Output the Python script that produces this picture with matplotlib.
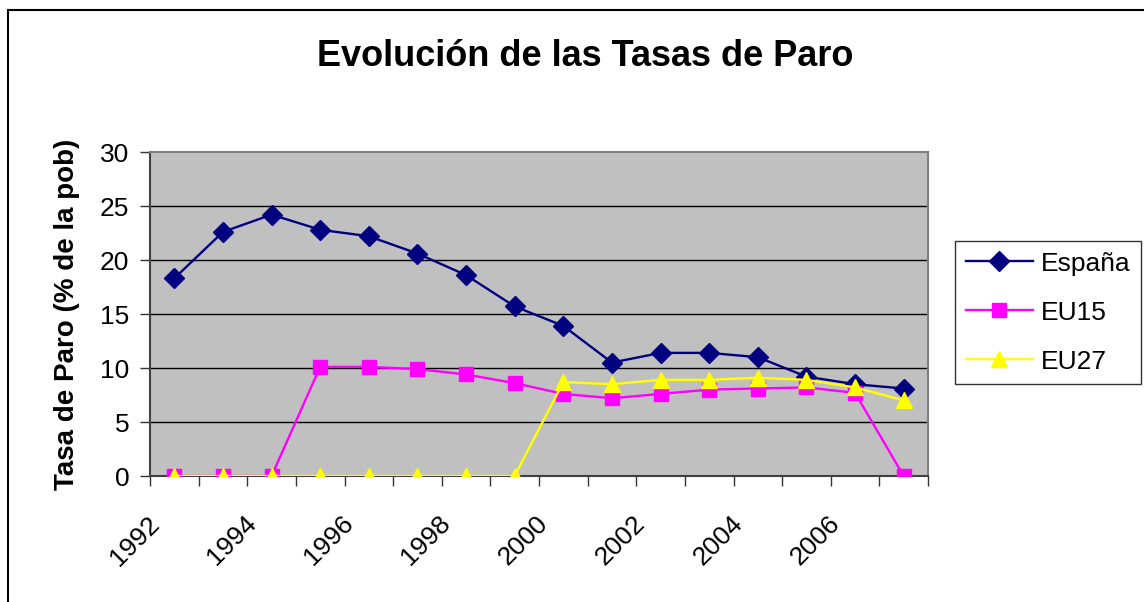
import matplotlib
matplotlib.use("Agg")
import matplotlib.pyplot as plt
import matplotlib.transforms as mtransforms
from matplotlib.patches import Rectangle

plt.rcParams['font.family'] = ['Liberation Sans', 'DejaVu Sans']

anios = list(range(1992, 2008))
espana = [18.3, 22.6, 24.2, 22.8, 22.2, 20.6, 18.6, 15.7, 13.9, 10.5, 11.4, 11.4, 11.0, 9.2, 8.5, 8.1]
eu15 = [0, 0, 0, 10.1, 10.1, 9.9, 9.4, 8.6, 7.6, 7.2, 7.6, 8.0, 8.1, 8.2, 7.7, 0]
eu27 = [0, 0, 0, 0, 0, 0, 0, 0, 8.7, 8.5, 8.9, 8.9, 9.1, 8.9, 8.2, 7.0]
etiquetas_x = [str(a) for a in anios[::2]]

fig = plt.figure(figsize=(11.44, 6.02), dpi=100)
ax = fig.add_axes([150 / 1144, 1 - 476 / 602, 778 / 1144, 324 / 602])
ax.set_facecolor('#C0C0C0')

# marco exterior del grafico (solo se ven los bordes izquierdo y superior)
fig.patches.append(Rectangle((8 / 1144, -0.1), 1.2, 1 - 10 / 602 + 0.1,
                             transform=fig.transFigure, fill=False,
                             edgecolor='black', linewidth=1.5))

x = list(range(len(anios)))
ax.plot(x, espana, color='#000080', marker='D', markersize=10, linewidth=1.7,
        label='España', zorder=3)
ax.plot(x, eu15, color='#FF00FF', marker='s', markersize=9.5, linewidth=1.7,
        label='EU15', zorder=4)
ax.plot(x, eu27, color='#FFFF00', marker='^', markersize=12, linewidth=1.7,
        label='EU27', zorder=5)

ax.set_xlim(-0.5, len(anios) - 0.5)
ax.set_ylim(0, 30)
ax.set_yticks(range(0, 31, 5))
for v in range(5, 30, 5):
    ax.axhline(v, color='black', linewidth=1, zorder=1)

# marcas entre categorias, etiquetas cada dos años
ax.set_xticks([i - 0.5 for i in range(len(anios) + 1)], minor=True)
ax.set_xticks([])
offset = mtransforms.ScaledTranslation(-19 / 100, -44 / 100, fig.dpi_scale_trans)
for i, lab in zip(x[::2], etiquetas_x):
    ax.text(i, 0, lab, transform=ax.get_xaxis_transform() + offset,
            rotation=45, ha='right', va='center', rotation_mode='anchor',
            fontsize=19)
ax.tick_params(axis='x', which='minor', length=7, width=1, color='#333333')
ax.tick_params(axis='y', length=7, width=1, labelsize=19, pad=8, color='#333333')

for s in ['top', 'right']:
    ax.spines[s].set_color('#808080')
    ax.spines[s].set_linewidth(1.5)
for s in ['left', 'bottom']:
    ax.spines[s].set_color('#404040')
    ax.spines[s].set_linewidth(1.5)

ax.set_ylabel('Tasa de Paro (% de la pob)', fontsize=20, fontweight='bold', labelpad=14)

fig.text(585 / 1144, 1 - 57 / 602, 'Evolución de las Tasas de Paro',
         fontsize=26, fontweight='bold', ha='center', va='center')

leg = fig.legend(loc='upper left', bbox_to_anchor=(955 / 1144, 1 - 241 / 602),
                 fontsize=19, frameon=True, fancybox=False, edgecolor='black',
                 handlelength=2.55, handletextpad=0.3, labelspacing=0.95,
                 borderpad=0.4, borderaxespad=0)
leg.get_frame().set_linewidth(1)

fig.savefig('out.png', dpi=100)
